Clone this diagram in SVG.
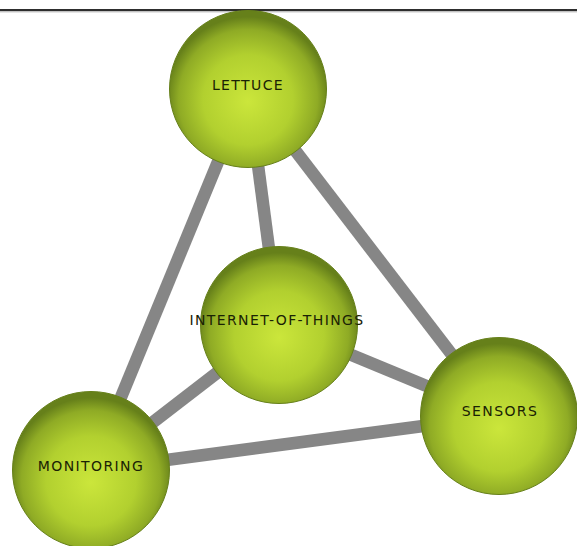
<svg xmlns="http://www.w3.org/2000/svg" width="577" height="546" viewBox="0 0 577 546">
  <style>
    .edge { stroke: #868686; stroke-width: 12.5; stroke-linecap: butt; fill: none; }
    .ball { fill: url(#ballFill); stroke: #66801a; stroke-width: 1; }
    .label { font-family: "DejaVu Sans", Verdana, sans-serif; font-size: 14px; letter-spacing: 1.4px; fill: #1a2204; text-anchor: middle; }
  </style>
  <defs>
    <radialGradient id="ballFill" cx="50%" cy="56%" r="52%" fx="50%" fy="58%">
      <stop offset="0" stop-color="#cbe63b"/>
      <stop offset="0.55" stop-color="#b2d02f"/>
      <stop offset="0.85" stop-color="#8fab25"/>
      <stop offset="1" stop-color="#66801a"/>
    </radialGradient>
  </defs>
  <rect x="0" y="0" width="577" height="546" fill="#ffffff"/>

  <!-- header rule -->
  <line x1="0" y1="10" x2="577" y2="10" stroke="#2e2e2e" stroke-width="2"/>
  <line x1="0" y1="11.8" x2="577" y2="11.8" stroke="#a8a8a8" stroke-width="1"/>

  <!-- connectors -->
  <g id="edges">
    <line class="edge" x1="248" y1="89" x2="91" y2="470"/>
    <line class="edge" x1="248" y1="89" x2="279" y2="325"/>
    <line class="edge" x1="248" y1="89" x2="499" y2="416"/>
    <line class="edge" x1="279" y1="325" x2="499" y2="416"/>
    <line class="edge" x1="279" y1="325" x2="91" y2="470"/>
    <line class="edge" x1="91" y1="470" x2="499" y2="416"/>
  </g>

  <!-- nodes -->
  <g id="lettuce">
    <circle class="ball" cx="248" cy="89" r="78.5"/>
    <text class="label" x="248" y="90">LETTUCE</text>
  </g>
  <g id="internet-of-things">
    <circle class="ball" cx="279" cy="325" r="78.5"/>
    <text class="label" x="277" y="325">INTERNET-OF-THINGS</text>
  </g>
  <g id="sensors">
    <circle class="ball" cx="499" cy="416" r="78.5"/>
    <text class="label" x="500" y="416">SENSORS</text>
  </g>
  <g id="monitoring">
    <circle class="ball" cx="91" cy="470" r="78.5"/>
    <text class="label" x="91" y="471">MONITORING</text>
  </g>
</svg>
